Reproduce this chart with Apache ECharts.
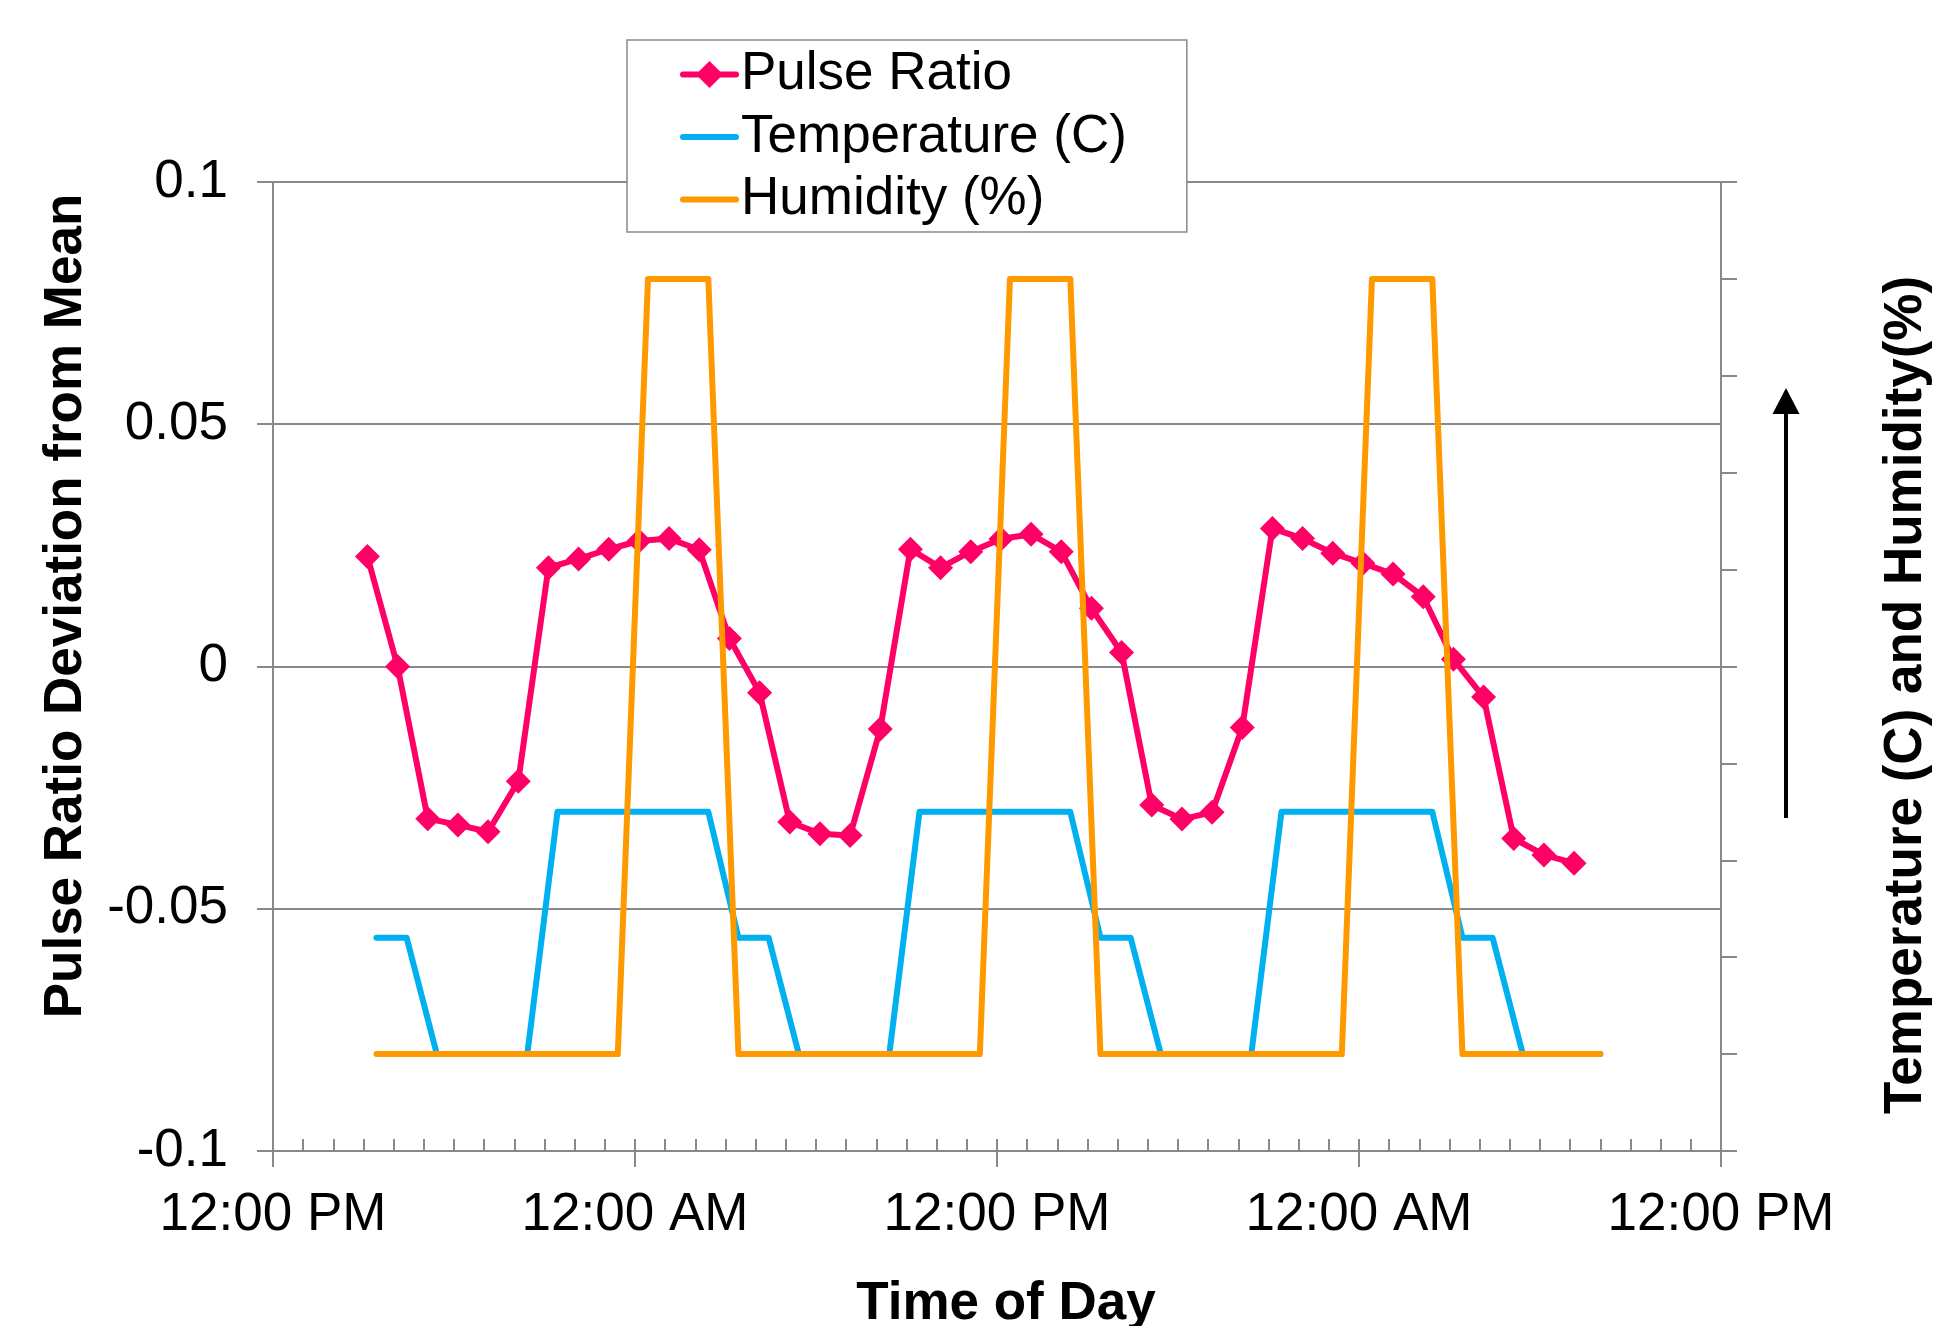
<!DOCTYPE html>
<html>
<head>
<meta charset="utf-8">
<script src="https://cdn.jsdelivr.net/npm/echarts@6/dist/echarts.min.js"></script>
<style>
  html, body { margin: 0; padding: 0; background: #fff; }
  #chart { width: 1957px; height: 1326px; }
</style>
</head>
<body>
<div id="chart"></div>
<script>
// ---- Data (x in hours after the first 12:00 PM) ----
const pulseHours = [3.13, 4.13, 5.13, 6.13, 7.13, 8.13, 9.13, 10.13, 11.13, 12.13,
  13.13, 14.13, 15.13, 16.13, 17.13, 18.13, 19.13, 20.13, 21.13, 22.13,
  23.13, 24.13, 25.13, 26.13, 27.13, 28.13, 29.13, 30.13, 31.13, 32.13,
  33.13, 34.13, 35.13, 36.13, 37.13, 38.13, 39.13, 40.13, 41.13, 42.13, 43.13];
const pulseValues = [0.0227, 0.0000, -0.0314, -0.0327, -0.0341, -0.0237, 0.0204, 0.0222, 0.0242, 0.0259,
  0.0264, 0.0241, 0.0058, -0.0054, -0.0321, -0.0345, -0.0349, -0.0129, 0.0242, 0.0204,
  0.0237, 0.0263, 0.0273, 0.0237, 0.0120, 0.0029, -0.0286, -0.0315, -0.0301, -0.0126,
  0.0285, 0.0264, 0.0234, 0.0213, 0.0191, 0.0144, 0.0015, -0.0063, -0.0355, -0.0389, -0.0406];

const tempHours = [3.43, 4.43, 5.43, 8.43, 9.43, 14.43, 15.43, 16.43, 17.43, 20.43, 21.43,
  26.43, 27.43, 28.43, 29.43, 32.43, 33.43, 38.43, 39.43, 40.43, 41.43, 44.0];
const tempValues = [22, 22, 10, 10, 35, 35, 22, 22, 10, 10, 35,
  35, 22, 22, 10, 10, 35, 35, 22, 22, 10, 10];

const humHours = [3.43, 11.43, 12.43, 14.43, 15.43, 23.43, 24.43, 26.43, 27.43, 35.43, 36.43, 38.43, 39.43, 44.0];
const humValues = [10, 10, 90, 90, 10, 10, 90, 90, 10, 10, 90, 90, 10, 10];

const xTickLabels = ['12:00 PM', '12:00 AM', '12:00 PM', '12:00 AM', '12:00 PM'];
const seriesNames = ['Pulse Ratio', 'Temperature (C)', 'Humidity (%)'];

// ---- Chart ----
const FONT = '"Liberation Sans", Arial, Helvetica, sans-serif';
const GRAY = '#898989';
const LW = 6;
const chart = echarts.init(document.getElementById('chart'), null, { renderer: 'canvas' });

const zip = (xs, ys) => xs.map((x, i) => [x, ys[i]]);

const option = {
  animation: false,
  backgroundColor: '#ffffff',
  textStyle: { fontFamily: FONT },
  grid: { left: 273, top: 182, width: 1448, height: 969, containLabel: false },
  legend: {
    orient: 'vertical',
    left: 627, top: 40,
    data: [
      { name: seriesNames[0] },
      { name: seriesNames[1], itemStyle: { opacity: 0 } },
      { name: seriesNames[2], itemStyle: { opacity: 0 } }
    ],
    backgroundColor: '#ffffff',
    borderColor: GRAY, borderWidth: 1.5, borderRadius: 0,
    padding: [8, 60, 6, 53],
    itemWidth: 53, itemHeight: 34, itemGap: 9.5,
    lineStyle: { width: 6, cap: 'round' },
    textStyle: { fontSize: 53, lineHeight: 53, color: '#000', fontFamily: FONT },
    selectedMode: false
  },
  xAxis: [
    {
      type: 'value', position: 'bottom', min: 0, max: 48, interval: 12,
      axisLine: { show: true, onZero: false, lineStyle: { color: GRAY, width: 2 } },
      axisTick: { show: true, inside: false, length: 16, lineStyle: { color: GRAY, width: 2 } },
      minorTick: { show: false },
      splitLine: { show: false },
      axisLabel: {
        show: true, margin: 38, fontSize: 53, color: '#000', fontFamily: FONT,
        formatter: v => xTickLabels[Math.round(v / 12)]
      }
    },
    {
      type: 'value', position: 'bottom', min: 0, max: 48, interval: 12,
      axisLine: { show: false, onZero: false },
      axisTick: { show: true, inside: true, length: 12, lineStyle: { color: GRAY, width: 2 } },
      minorTick: { show: true, splitNumber: 12, length: 12, lineStyle: { color: GRAY, width: 2 } },
      splitLine: { show: false },
      axisLabel: { show: false }
    }
  ],
  yAxis: [
    {
      type: 'value', position: 'left', min: -0.1, max: 0.1, interval: 0.05,
      axisLine: { show: true, onZero: false, lineStyle: { color: GRAY, width: 2 } },
      axisTick: { show: true, inside: false, length: 16, lineStyle: { color: GRAY, width: 2 } },
      splitLine: { show: true, lineStyle: { color: GRAY, width: 2 } },
      axisLabel: {
        show: true, margin: 45, fontSize: 53, color: '#000', fontFamily: FONT,
        formatter: v => String(Math.round(v * 100) / 100)
      }
    },
    {
      type: 'value', position: 'right', min: 0, max: 100, interval: 10,
      axisLine: { show: true, onZero: false, lineStyle: { color: GRAY, width: 2 } },
      axisTick: { show: true, inside: false, length: 16, lineStyle: { color: GRAY, width: 2 } },
      splitLine: { show: false },
      axisLabel: { show: false }
    }
  ],
  series: [
    {
      name: seriesNames[0], type: 'line', xAxisIndex: 0, yAxisIndex: 0,
      data: zip(pulseHours, pulseValues),
      symbol: 'diamond', symbolSize: 25, showSymbol: true,
      lineStyle: { color: '#FF0066', width: LW, cap: 'round', join: 'round' },
      itemStyle: { color: '#FF0066' },
      z: 3
    },
    {
      name: seriesNames[1], type: 'line', xAxisIndex: 0, yAxisIndex: 1,
      data: zip(tempHours, tempValues),
      symbol: 'none',
      lineStyle: { color: '#00B0F0', width: LW, cap: 'round', join: 'round' },
      itemStyle: { color: '#00B0F0' },
      z: 4
    },
    {
      name: seriesNames[2], type: 'line', xAxisIndex: 0, yAxisIndex: 1,
      data: zip(humHours, humValues),
      symbol: 'none',
      lineStyle: { color: '#FF9900', width: LW, cap: 'round', join: 'round' },
      itemStyle: { color: '#FF9900' },
      z: 5
    }
  ],
  graphic: [
    {
      type: 'text', x: 66, y: 606, rotation: Math.PI / 2,
      style: {
        text: 'Pulse Ratio Deviation from Mean', fill: '#000',
        font: 'bold 53px ' + FONT, textAlign: 'center', textVerticalAlign: 'middle'
      }
    },
    {
      type: 'text', x: 1906, y: 695, rotation: Math.PI / 2,
      style: {
        text: 'Temperature (C) and Humidity(%)', fill: '#000',
        font: 'bold 53px ' + FONT, textAlign: 'center', textVerticalAlign: 'middle'
      }
    },
    {
      type: 'text', x: 1006, y: 1304,
      style: {
        text: 'Time of Day', fill: '#000',
        font: 'bold 53px ' + FONT, textAlign: 'center', textVerticalAlign: 'middle'
      }
    },
    {
      type: 'line',
      shape: { x1: 1786, y1: 818, x2: 1786, y2: 410 },
      style: { stroke: '#000', lineWidth: 4 }
    },
    {
      type: 'polygon',
      shape: { points: [[1786, 388], [1772.5, 414], [1799.5, 414]] },
      style: { fill: '#000' }
    }
  ]
};
chart.setOption(option);
</script>
</body>
</html>
